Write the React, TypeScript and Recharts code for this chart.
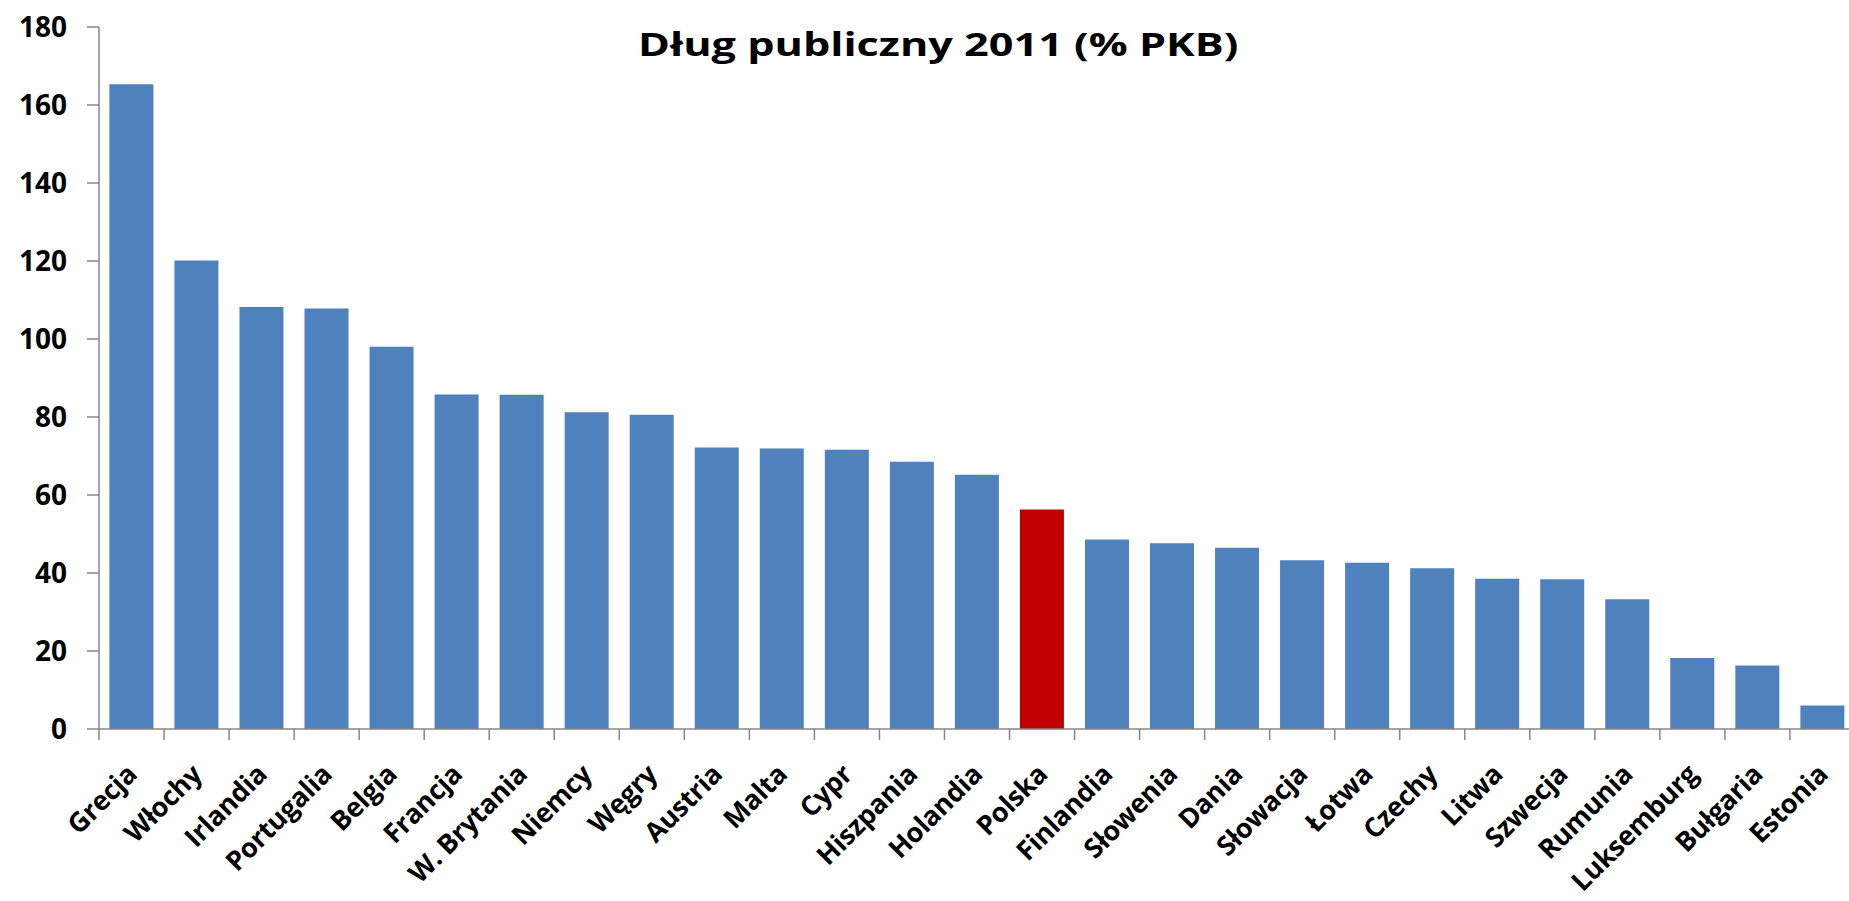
import React from 'react'
import { BarChart, Bar, XAxis, YAxis, Cell } from 'recharts'

// public debt 2011, % of GDP
const countries = [
  'Grecja', 'Włochy', 'Irlandia', 'Portugalia', 'Belgia', 'Francja', 'W. Brytania',
  'Niemcy', 'Węgry', 'Austria', 'Malta', 'Cypr', 'Hiszpania', 'Holandia', 'Polska',
  'Finlandia', 'Słowenia', 'Dania', 'Słowacja', 'Łotwa', 'Czechy', 'Litwa', 'Szwecja',
  'Rumunia', 'Luksemburg', 'Bułgaria', 'Estonia',
]
const debt = [
  165.3, 120.1, 108.2, 107.8, 98.0, 85.8, 85.7, 81.2, 80.6, 72.2, 71.9, 71.6, 68.5, 65.2,
  56.3, 48.6, 47.6, 46.5, 43.3, 42.6, 41.2, 38.5, 38.4, 33.3, 18.2, 16.3, 6.0,
]
const yTicks = [0, 20, 40, 60, 80, 100, 120, 140, 160, 180]
const highlight = 'Polska'

const data = countries.map((name, i) => ({ name, debt: debt[i] }))

const CHART_W = 1855
const CHART_H = 901
const Y_AXIS_W = 99
const BAND = (CHART_W - Y_AXIS_W) / countries.length
const FONT = '"Open Sans", sans-serif'

const CountryTick = (props: any) => {
  const { x, y, payload } = props
  return (
    <g>
      <line x1={x - BAND / 2} x2={x - BAND / 2} y1={y} y2={y + 11} stroke="#868686" strokeWidth={1.5} />
      <text
        transform={`translate(${x + 7},${y + 47}) rotate(-45)`}
        textAnchor="end"
        fontFamily={FONT}
        fontWeight={700}
        fontSize={27}
        letterSpacing={-0.3}
        fill="#000"
      >
        {payload.value}
      </text>
    </g>
  )
}

export default function App() {
  return (
    <div style={{ position: 'absolute', left: 0, top: 0, width: 1849, height: 901, overflow: 'hidden', background: '#fff' }}>
      <div
        style={{
          position: 'absolute',
          left: 638,
          top: 28,
          fontFamily: FONT,
          fontWeight: 700,
          fontSize: 32,
          lineHeight: '32px',
          whiteSpace: 'nowrap',
          transform: 'scaleX(1.35)',
          transformOrigin: 'left top',
          color: '#000',
        }}
      >
        Dług publiczny 2011 (% PKB)
      </div>
      <BarChart
        width={CHART_W}
        height={CHART_H}
        data={data}
        margin={{ top: 27, right: 0, left: 0, bottom: 0 }}
        barCategoryGap="16%"
      >
        <XAxis
          dataKey="name"
          height={172}
          interval={0}
          tickSize={0}
          tickMargin={0}
          tickLine={false}
          axisLine={{ stroke: '#868686', strokeWidth: 1.5 }}
          tick={<CountryTick />}
        />
        <YAxis
          width={Y_AXIS_W}
          domain={[0, 180]}
          ticks={yTicks}
          interval={0}
          tickSize={12}
          tickMargin={20}
          axisLine={{ stroke: '#868686', strokeWidth: 1.5 }}
          tickLine={{ stroke: '#868686', strokeWidth: 1.5 }}
          tick={{ fontFamily: FONT, fontWeight: 700, fontSize: 28, fill: '#000' }}
        />
        <Bar dataKey="debt" isAnimationActive={false}>
          {data.map((d) => (
            <Cell key={d.name} fill={d.name === highlight ? '#C00000' : '#4F81BD'} />
          ))}
        </Bar>
      </BarChart>
    </div>
  )
}
